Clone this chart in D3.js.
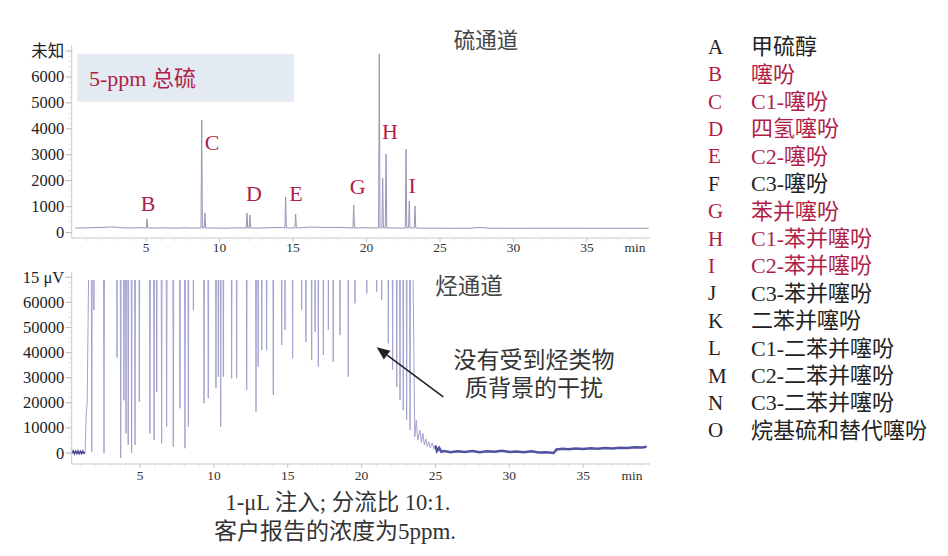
<!DOCTYPE html>
<html><head><meta charset="utf-8">
<script src="https://cdn.jsdelivr.net/npm/d3@7"></script>
<style>
html,body{margin:0;padding:0;background:#fff;}
svg{display:block;}
text{font-family:"Liberation Serif","Noto Sans CJK SC",serif;}
</style></head><body>
<svg id="c" width="948" height="556"></svg>
<script>
// ---------- DATA ----------
// Sulfur channel (top)
const sTicks = [0,1000,2000,3000,4000,5000,6000,7000];
const sTickLabels = ["0","1000","2000","3000","4000","5000","6000","未知"];
const sBaseTimes  = [0.2,1.0,1.6,2.2,2.6,3.0,3.4,4.0,4.6,5.5,6.2,7.0,7.6,8.2,9.6,10.4,11.0,11.6,12.6,13.2,13.8,14.2,15.6,16.2,16.8,17.4,18.0,18.6,19.6,20.4,21.8,22.3,23.8,24.5,25.5,27.0,27.7,28.4,30.0,33.0,36.0,39.2];
const sBaseValues = [170,180,190,200,215,205,180,175,185,170,178,168,180,170,175,165,178,175,170,182,190,195,185,210,200,192,198,185,182,178,175,170,165,168,162,165,195,165,162,165,162,162];
const sPeakTimes   = [5.07,8.79,9.01,11.87,12.07,14.50,15.18,19.13,20.87,21.10,21.33,22.69,22.91,23.30];
const sPeakHeights = [520,4340,750,750,675,1370,715,1060,6890,2100,3030,3220,1215,1020];
const sFoot = 175;
const sLabels = ["B","C","D","E","G","H","I"];
const sLabelTimes  = [5.15,9.5,12.35,15.2,19.4,21.6,23.1];
const sLabelValues = [1100,3470,1490,1490,1770,3900,1820];

// Hydrocarbon channel (bottom)
const hTicks = [0,10000,20000,30000,40000,50000,60000,70000];
const hTickLabels = ["0","10000","20000","30000","40000","50000","60000","15 μV"];
const hcStartTimes  = [0.40,0.48,0.56,0.64,0.72,0.80,0.88,0.96,1.04,1.12,1.20,1.28,1.36,1.42];
const hcStartValues = [0,800,-300,700,-200,800,-300,600,-200,700,-100,300,16000,20000];
const hcMinTimes  = [1.73,1.88,2.56,3.44,3.69,3.91,4.05,4.20,4.43,4.66,4.95,5.67,5.95,6.13,6.46,6.80,7.25,7.70,8.04,8.27,8.61,9.33,9.62,10.14,10.30,10.46,10.64,11.20,11.54,12.22,12.85,13.00,13.24,13.57,14.02,14.59,14.81,15.33,15.94,16.23,16.62,16.85,17.07,17.41,17.75,18.08,18.54,19.10,19.55,20.35,21.02,21.36,21.81,22.10,22.38,22.60,22.82,23.05,23.28];
const hcMinValues = [500,57000,0,38000,-2000,21000,7800,3200,100,3200,20400,7800,5200,24400,3900,10500,2500,17800,1900,10500,57000,19800,21800,25800,30400,10500,30400,29800,29800,25100,16500,34400,41000,41000,23100,43000,49000,37700,57000,44300,37000,48300,34400,39000,49000,36400,47000,30400,59600,63600,64300,61000,43700,33100,26400,21100,17100,13100,9200];
const hcOffScale = 150000;
const hcTailTimes  = [23.60,23.70,23.80,23.95,24.05,24.15,24.25,24.35,24.45,24.55,24.65,24.78,24.90,25.00,25.10,25.25,25.40,25.60,26.0,26.5,27.0,27.5,28.0,28.5,29.0,29.5,30.0,30.5,31.0,31.5,32.0,32.5,33.0,33.2,33.6,34.0,34.5,35.0,35.5,36.0,36.5,37.0,37.5,38.0,38.5,39.0,39.3];
const hcTailValues = [6500,13000,5200,9000,4200,7800,3200,5600,2500,4500,2000,4000,1500,3000,800,2000,500,800,300,700,400,800,300,700,500,900,400,600,300,700,200,300,0,1400,1700,1500,1800,1600,1900,1700,2000,1800,2100,2000,2300,2200,2500];

// x-axis
const xTickLabelsVals = [5,10,15,20,25,30,35];

// Legend
const legendLetters = ["A","B","C","D","E","F","G","H","I","J","K","L","M","N","O"];
const legendNames = ["甲硫醇","噻吩","C1-噻吩","四氢噻吩","C2-噻吩","C3-噻吩","苯并噻吩","C1-苯并噻吩","C2-苯并噻吩","C3-苯并噻吩","二苯并噻吩","C1-二苯并噻吩","C2-二苯并噻吩","C3-二苯并噻吩","烷基硫和替代噻吩"];
const legendFound = [false,true,true,true,true,false,true,true,true,false,false,false,false,false,false];

// ---------- DRAW ----------
const svg = d3.select("#c");
const RED = "#b01e48", DARK = "#222", AX = "#c8c8c8";

// scales
const xT = d3.scaleLinear().domain([0,39.5]).range([72.5, 72.5+39.5*14.7]);
const yT = d3.scaleLinear().domain([0,7000]).range([232.5, 232.5-7*25.92]);
const xB = d3.scaleLinear().domain([0,39.5]).range([66.2, 66.2+39.5*14.77]);
const yB = d3.scaleLinear().domain([0,70000]).range([453, 453-7*25.1]);

// ---- Top panel ----
svg.append("rect").attr("x",77.3).attr("y",54).attr("width",216.7).attr("height",47.7).attr("fill","#e4eaf2");
svg.append("text").attr("x",89).attr("y",78).attr("dominant-baseline","central")
  .attr("font-size",22).attr("fill",RED).text("5-ppm 总硫");
svg.append("text").attr("x",486).attr("y",41).attr("text-anchor","middle").attr("dominant-baseline","central")
  .attr("font-size",21.5).attr("fill","#444").text("硫通道");

// y axis top
const gyT = svg.append("g").attr("transform","translate(71.7,0)");
gyT.append("line").attr("x1",0).attr("x2",0).attr("y1",45).attr("y2",238).attr("stroke",AX);
gyT.selectAll("line.mi").data(d3.range(0,7200,200)).join("line").attr("class","mi")
  .attr("x1",-3).attr("x2",0).attr("y1",d=>yT(d)).attr("y2",d=>yT(d)).attr("stroke","#e2e2e2");
gyT.selectAll("line.ma").data(sTicks).join("line").attr("class","ma")
  .attr("x1",-6).attr("x2",0).attr("y1",d=>yT(d)).attr("y2",d=>yT(d)).attr("stroke","#bbb");
gyT.selectAll("text").data(sTicks).join("text")
  .attr("x",-7.5).attr("y",d=>yT(d)).attr("text-anchor","end").attr("dominant-baseline","central")
  .attr("font-size",16.5).attr("fill",DARK).text((d,i)=>sTickLabels[i]);

// x axis
function xAxis(g, x, y0, labY, minX){
  g.append("line").attr("x1",71.7).attr("x2",650).attr("y1",y0).attr("y2",y0).attr("stroke",AX);
  g.selectAll("line.t").data(d3.range(1,40)).join("line").attr("class","t")
    .attr("x1",d=>x(d)).attr("x2",d=>x(d)).attr("y1",y0).attr("y2",d=>y0+(d%5===0?4:3))
    .attr("stroke",d=>d%5===0?"#c4c4c4":"#e0e0e0");
  g.selectAll("text.l").data(xTickLabelsVals).join("text").attr("class","l")
    .attr("x",d=>x(d)).attr("y",labY).attr("text-anchor","middle").attr("dominant-baseline","central")
    .attr("font-size",13.5).attr("fill","#333").text(d=>d);
  g.append("text").attr("x",minX).attr("y",labY).attr("text-anchor","middle").attr("dominant-baseline","central")
    .attr("font-size",13.5).attr("fill","#333").text("min");
}
xAxis(svg.append("g"), xT, 238, 247, 635);

// sulfur trace
const sPts = sBaseTimes.map((t,i)=>[t,sBaseValues[i]]);
sPeakTimes.forEach((t,i)=>{ sPts.push([t-0.05,sFoot],[t,sPeakHeights[i]],[t+0.05,sFoot]); });
sPts.sort((a,b)=>a[0]-b[0]);
svg.append("path").datum(sPts).attr("fill","none").attr("stroke","#9797b6").attr("stroke-width",1)
  .attr("d", d3.line().x(d=>xT(d[0])).y(d=>yT(d[1])));

svg.selectAll("text.pl").data(sLabels).join("text").attr("class","pl")
  .attr("x",(d,i)=>xT(sLabelTimes[i])).attr("y",(d,i)=>yT(sLabelValues[i]))
  .attr("text-anchor","middle").attr("dominant-baseline","central")
  .attr("font-size",22).attr("fill",RED).text(d=>d);

// ---- Bottom panel ----
svg.append("text").attr("x",469).attr("y",286).attr("text-anchor","middle").attr("dominant-baseline","central")
  .attr("font-size",22.5).attr("fill","#444").text("烃通道");

const gyB = svg.append("g").attr("transform","translate(71.7,0)");
gyB.append("line").attr("x1",0).attr("x2",0).attr("y1",272).attr("y2",464).attr("stroke",AX);
gyB.selectAll("line.mi").data(d3.range(0,72000,2000)).join("line").attr("class","mi")
  .attr("x1",-3).attr("x2",0).attr("y1",d=>yB(d)).attr("y2",d=>yB(d)).attr("stroke","#e2e2e2");
gyB.selectAll("line.ma").data(hTicks).join("line").attr("class","ma")
  .attr("x1",-6).attr("x2",0).attr("y1",d=>yB(d)).attr("y2",d=>yB(d)).attr("stroke","#bbb");
gyB.selectAll("text").data(hTicks).join("text")
  .attr("x",-7.5).attr("y",d=>yB(d)).attr("text-anchor","end").attr("dominant-baseline","central")
  .attr("font-size",16.5).attr("fill",DARK).text((d,i)=>hTickLabels[i]);

xAxis(svg.append("g"), xB, 464, 475, 632);

svg.append("clipPath").attr("id","clipB").append("rect")
  .attr("x",72).attr("y",yB(68900)).attr("width",580).attr("height",464-yB(68900));

const hPts = hcStartTimes.map((t,i)=>[t,hcStartValues[i]]);
hcMinTimes.forEach((t,i)=>{ hPts.push([t-0.06,hcOffScale],[t,hcMinValues[i]],[t+0.06,hcOffScale]); });
hcTailTimes.forEach((t,i)=>hPts.push([t,hcTailValues[i]]));
const lineB = d3.line().x(d=>xB(d[0])).y(d=>yB(d[1]));
const gB = svg.append("g").attr("clip-path","url(#clipB)");
gB.append("path").datum(hPts).attr("fill","none").attr("stroke","#a2a2cf").attr("stroke-width",1).attr("d",lineB);
// dense baseline segments
gB.append("path").datum(hcStartTimes.slice(0,12).map((t,i)=>[t,hcStartValues[i]]))
  .attr("fill","none").attr("stroke","#4a4a98").attr("stroke-width",1.6).attr("d",lineB);
const tailBase = hcTailTimes.map((t,i)=>[t,hcTailValues[i]]).filter(d=>d[0]>=25.0);
gB.append("path").datum(tailBase).attr("fill","none").attr("stroke","#5252a2").attr("stroke-width",2.6).attr("d",lineB);

// annotation
const ax1 = xB(25.53), ay1 = yB(22400), ax2 = xB(21.02), ay2 = yB(42100);
const ang = Math.atan2(ay2-ay1, ax2-ax1), L = 13, Wd = 5.5;
const bx = ax2 - L*Math.cos(ang), by = ay2 - L*Math.sin(ang);
svg.append("line").attr("x1",ax1).attr("y1",ay1).attr("x2",bx).attr("y2",by).attr("stroke","#222").attr("stroke-width",1.6);
svg.append("path").attr("fill","#222").attr("d",
  `M${ax2},${ay2}L${bx+Wd*Math.sin(ang)},${by-Wd*Math.cos(ang)}L${bx-Wd*Math.sin(ang)},${by+Wd*Math.cos(ang)}Z`);
svg.append("text").attr("x",534).attr("y",360).attr("text-anchor","middle").attr("dominant-baseline","central")
  .attr("font-size",23).attr("fill","#333").text("没有受到烃类物");
svg.append("text").attr("x",534).attr("y",388).attr("text-anchor","middle").attr("dominant-baseline","central")
  .attr("font-size",23).attr("fill","#333").text("质背景的干扰");

// caption
svg.append("text").attr("x",338).attr("y",502).attr("text-anchor","middle").attr("dominant-baseline","central")
  .attr("font-size",22.5).attr("fill","#333").text("1-μL 注入; 分流比 10:1.");
svg.append("text").attr("x",335).attr("y",531).attr("text-anchor","middle").attr("dominant-baseline","central")
  .attr("font-size",23).attr("fill","#333").text("客户报告的浓度为5ppm.");

// legend
const lg = svg.append("g");
lg.selectAll("text.k").data(legendLetters).join("text").attr("class","k")
  .attr("x",708).attr("y",(d,i)=>46.7+i*27.4).attr("dominant-baseline","central")
  .attr("font-size",21).attr("fill",(d,i)=>legendFound[i]?RED:DARK).text(d=>d);
lg.selectAll("text.n").data(legendNames).join("text").attr("class","n")
  .attr("x",751).attr("y",(d,i)=>46.7+i*27.4).attr("dominant-baseline","central")
  .attr("font-size",22).attr("fill",(d,i)=>legendFound[i]?RED:DARK).text(d=>d);
</script>
</body></html>
